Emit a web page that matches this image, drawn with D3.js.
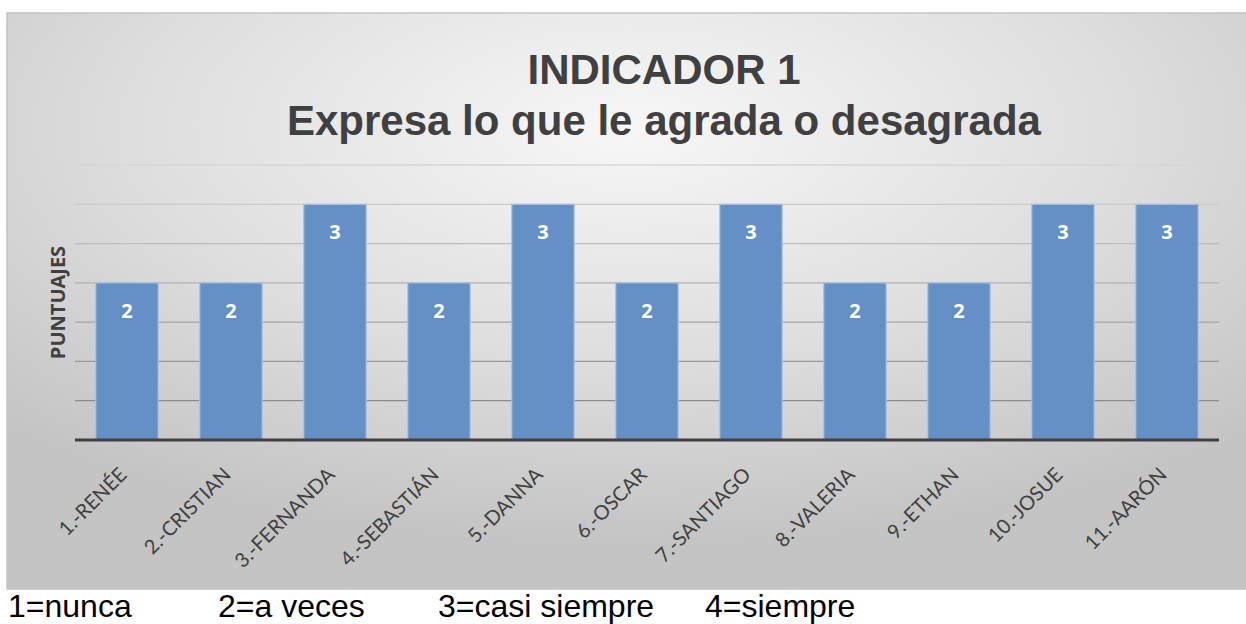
<!DOCTYPE html>
<html>
<head>
<meta charset="utf-8">
<script src="https://cdn.jsdelivr.net/npm/d3@7"></script>
<style>
  body { margin: 0; background: #fff; }
  svg { display: block; }
</style>
</head>
<body>
<div id="chart"></div>
<script>
// data
var alumnos = ["1.-RENÉE", "2.-CRISTIAN", "3.-FERNANDA", "4.-SEBASTIÁN", "5.-DANNA", "6.-OSCAR",
               "7.-SANTIAGO", "8.-VALERIA", "9.-ETHAN", "10.-JOSUE", "11.-AARÓN"];
var puntajes = [2, 2, 3, 2, 3, 2, 3, 2, 2, 3, 3];
var yTicks = [0.5, 1, 1.5, 2, 2.5, 3, 3.5];
var titulo = ["INDICADOR 1", "Expresa lo que le agrada o desagrada"];
var leyenda = ["1=nunca", "2=a veces", "3=casi siempre", "4=siempre"];
var leyendaX = [8, 218, 438, 705];

var width = 1246, height = 624;

var svg = d3.select("#chart").append("svg")
  .attr("width", width)
  .attr("height", height);

// background gradient of the chart area
var defs = svg.append("defs");
var grad = defs.append("radialGradient")
  .attr("id", "bg")
  .attr("cx", "50%").attr("cy", "20%").attr("r", "72%")
  .attr("gradientUnits", "objectBoundingBox");
grad.append("stop").attr("offset", "0%").attr("stop-color", "#f7f7f7");
grad.append("stop").attr("offset", "55%").attr("stop-color", "#dedede");
grad.append("stop").attr("offset", "100%").attr("stop-color", "#c4c4c4");

svg.append("rect")
  .attr("x", 7).attr("y", 13)
  .attr("width", 1245).attr("height", 576)
  .attr("fill", "url(#bg)")
  .attr("stroke", "#c4c4c4")
  .attr("stroke-width", 1.5);

var x = d3.scaleBand()
  .domain(alumnos)
  .range([75, 1219])
  .paddingInner(0.4)
  .paddingOuter(0.2);

var y = d3.scaleLinear()
  .domain([0, 3.5])
  .range([440, 165]);

// gridlines, darker toward the bottom
var gridColor = d3.scaleLinear().domain([0.5, 3.5]).range(["#8c8c8c", "#d6d6d6"]);
svg.append("g")
  .selectAll("line")
  .data(yTicks)
  .enter().append("line")
  .attr("x1", 75).attr("x2", 1219)
  .attr("y1", function(d) { return y(d); })
  .attr("y2", function(d) { return y(d); })
  .attr("stroke", function(d) { return gridColor(d); })
  .attr("stroke-width", 1.3);

// bars
svg.append("g")
  .selectAll("rect")
  .data(puntajes)
  .enter().append("rect")
  .attr("x", function(d, i) { return x(alumnos[i]); })
  .attr("y", function(d) { return y(d); })
  .attr("width", x.bandwidth())
  .attr("height", function(d) { return y(0) - y(d); })
  .attr("fill", "#6590c5")
  .attr("stroke", "#a9c3e3")
  .attr("stroke-width", 1.2);

// value labels
svg.append("g")
  .selectAll("text")
  .data(puntajes)
  .enter().append("text")
  .attr("x", function(d, i) { return x(alumnos[i]) + x.bandwidth() / 2; })
  .attr("y", function(d) { return y(d) + 35; })
  .attr("text-anchor", "middle")
  .attr("font-family", "'Open Sans', sans-serif")
  .attr("font-weight", "bold")
  .attr("font-size", "20px")
  .attr("fill", "#ffffff")
  .text(function(d) { return d; });

// x axis baseline
svg.append("line")
  .attr("x1", 75).attr("x2", 1219)
  .attr("y1", y(0)).attr("y2", y(0))
  .attr("stroke", "#404040")
  .attr("stroke-width", 3);

// x labels, rotated
svg.append("g")
  .selectAll("text")
  .data(alumnos)
  .enter().append("text")
  .attr("transform", function(d) {
    return "translate(" + (x(d) + x.bandwidth() / 2 + 1) + "," + (y(0) + 36) + ") rotate(-45)";
  })
  .attr("text-anchor", "end")
  .attr("font-family", "Lato, sans-serif")
  .attr("font-size", "20px")
  .attr("fill", "#404040")
  .text(function(d) { return d; });

// y axis title
svg.append("text")
  .attr("transform", "translate(65," + y(1.75) + ") rotate(-90)")
  .attr("text-anchor", "middle")
  .attr("font-family", "'Open Sans', sans-serif")
  .attr("font-weight", "bold")
  .attr("font-size", "20px")
  .attr("fill", "#404040")
  .text("PUNTUAJES");

// title
svg.append("g")
  .selectAll("text")
  .data(titulo)
  .enter().append("text")
  .attr("x", 664)
  .attr("y", function(d, i) { return 84 + i * 51; })
  .attr("text-anchor", "middle")
  .attr("font-family", "Arial, 'Liberation Sans', sans-serif")
  .attr("font-weight", "bold")
  .attr("font-size", "42px")
  .attr("fill", "#404040")
  .text(function(d) { return d; });

// legend text under the chart
svg.append("g")
  .selectAll("text")
  .data(leyenda)
  .enter().append("text")
  .attr("x", function(d, i) { return leyendaX[i]; })
  .attr("y", 617)
  .attr("font-family", "Arial, 'Liberation Sans', sans-serif")
  .attr("font-size", "32px")
  .attr("fill", "#000")
  .text(function(d) { return d; });
</script>
</body>
</html>
